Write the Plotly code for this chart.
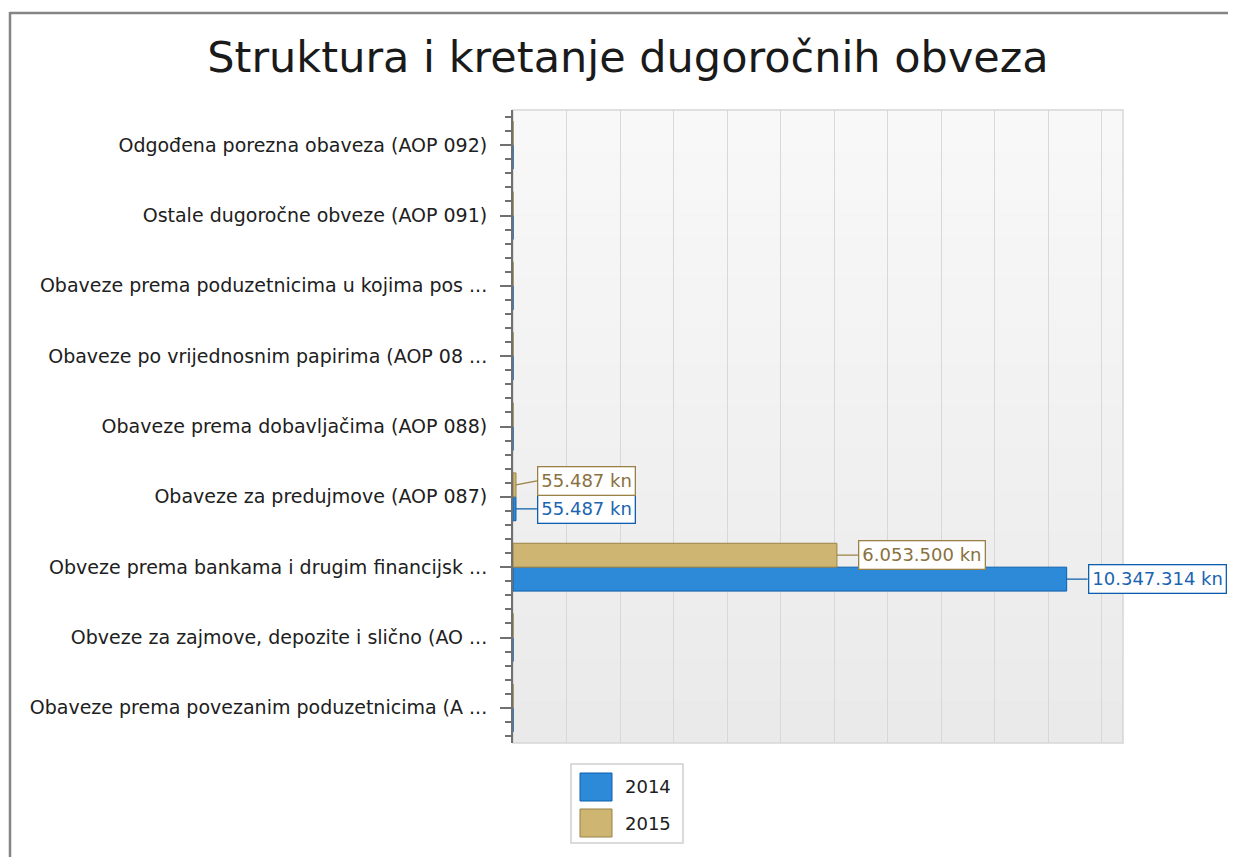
import plotly.graph_objects as go

# ---- data (bottom-to-top category order) ----
categories = [
    "Obaveze prema povezanim poduzetnicima (A ...",
    "Obveze za zajmove, depozite i slično (AO ...",
    "Obveze prema bankama i drugim financijsk ...",
    "Obaveze za predujmove (AOP 087)",
    "Obaveze prema dobavljačima (AOP 088)",
    "Obaveze po vrijednosnim papirima (AOP 08 ...",
    "Obaveze prema poduzetnicima u kojima pos ...",
    "Ostale dugoročne obveze (AOP 091)",
    "Odgođena porezna obaveza (AOP 092)",
]
values_2014 = [0, 0, 10347314, 55487, 0, 0, 0, 0, 0]
values_2015 = [0, 0, 6053500, 55487, 0, 0, 0, 0, 0]
series_names = ["2014", "2015"]
title_text = "Struktura i kretanje dugoročnih obveza"

OFF = 8  # page body margin
W, H = 1236 - OFF, 857 - OFF
L, R, T, B = 513 - OFF, 1123 - OFF, 110 - OFF, 743 - OFF  # plot area in figure px


def px(x):
    return (x - OFF - L) / (R - L)


def py(y):
    return (B - (y - OFF)) / (B - T)


BLUE_FILL, BLUE_LINE, BLUE_TEXT = "#2d8ad8", "#0d5fae", "#1a64b0"
GOLD_FILL, GOLD_LINE, GOLD_TEXT = "#ceb572", "#9a8246", "#8a7140"
FONT = "DejaVu Sans"

ypos = list(range(len(categories)))

fig = go.Figure()
fig.add_trace(go.Bar(
    y=ypos, x=values_2014, orientation="h", name=series_names[0],
    marker=dict(color=BLUE_FILL, line=dict(color=BLUE_LINE, width=1)),
    showlegend=False, hoverinfo="x+name",
))
fig.add_trace(go.Bar(
    y=ypos, x=values_2015, orientation="h", name=series_names[1],
    marker=dict(color=GOLD_FILL, line=dict(color=GOLD_LINE, width=1)),
    showlegend=False, hoverinfo="x+name",
))

bargap = 0.32
half = (1 - bargap) / 4  # offset of each bar centre from category centre


def fmt(v):
    return f"{v:,}".replace(",", ".") + " kn"


annotations = []
for i, (v14, v15) in enumerate(zip(values_2014, values_2015)):
    small = max(v14, v15) < 1e6
    for v, off, col, tcol, shift in [
        (v14, -half, BLUE_LINE, BLUE_TEXT, 0),
        (v15, half, GOLD_LINE, GOLD_TEXT, -4 if small else 0),
    ]:
        if v <= 0:
            continue
        annotations.append(dict(
            x=v, y=i + off, xref="x", yref="y",
            text=fmt(v), showarrow=True, arrowhead=0, arrowwidth=1.3,
            arrowcolor=col, ax=21, ay=shift, xanchor="left", yanchor="middle",
            bordercolor=col, borderwidth=1.3, borderpad=3, bgcolor="white",
            font=dict(family=FONT, size=18, color=tcol),
        ))

shapes = []
# subtle vertical background gradient of the plot area
n_strips = 30
for k in range(n_strips):
    t = k / (n_strips - 1)
    c = round(0xf8 - t * (0xf8 - 0xea))
    shapes.append(dict(type="rect", xref="paper", yref="paper", x0=0, x1=1,
                       y0=1 - (k + 1) / n_strips, y1=1 - k / n_strips,
                       line=dict(width=0), fillcolor=f"rgb({c},{c},{c})", layer="below"))
shapes += [
    # outer frame (top and left)
    dict(type="line", xref="paper", yref="paper", x0=px(10), x1=px(1240), y0=py(13), y1=py(13),
         line=dict(color="#858585", width=2.5)),
    dict(type="line", xref="paper", yref="paper", x0=px(10), x1=px(10), y0=py(12), y1=py(860),
         line=dict(color="#858585", width=2.5)),
    # plot-area light border
    dict(type="rect", xref="paper", yref="paper", x0=0, x1=1, y0=0, y1=1,
         line=dict(color="#d6d6d6", width=1.5), layer="below"),
    # legend box (drawn manually for large swatches)
    dict(type="rect", xref="paper", yref="paper", x0=px(571), x1=px(683), y0=py(843), y1=py(764),
         line=dict(color="#d0d0d0", width=1.5), fillcolor="white"),
    dict(type="rect", xref="paper", yref="paper", x0=px(580), x1=px(612), y0=py(801), y1=py(773),
         line=dict(color=BLUE_LINE, width=1), fillcolor=BLUE_FILL),
    dict(type="rect", xref="paper", yref="paper", x0=px(580), x1=px(612), y0=py(837), y1=py(809),
         line=dict(color=GOLD_LINE, width=1), fillcolor=GOLD_FILL),
]
for name, yy in zip(series_names, [787, 823]):
    annotations.append(dict(
        x=px(623), y=py(yy), xref="paper", yref="paper", text=name, showarrow=False,
        xanchor="left", yanchor="middle",
        font=dict(family=FONT, size=18, color="#202020"),
    ))

fig.update_layout(
    width=W, height=H,
    margin=dict(l=L, r=W - R, t=T, b=H - B, pad=0),
    paper_bgcolor="white", plot_bgcolor="#f0f0f0",
    barmode="group", bargap=bargap, bargroupgap=0,
    title=dict(text=title_text, x=(628 - OFF) / W, xanchor="center", y=1 - (57 - OFF) / H,
               yanchor="middle", font=dict(family=FONT, size=43, color="#1a1a1a")),
    xaxis=dict(range=[0, 11.4e6], dtick=1e6, tick0=0, showgrid=True, gridcolor="#d8d8d8",
               gridwidth=1.3, showticklabels=False, ticks="", zeroline=False, showline=False,
               fixedrange=True),
    yaxis=dict(range=[-0.5, len(categories) - 0.5], tickvals=ypos, ticktext=categories,
               showgrid=False, zeroline=False, showline=True, linecolor="#707070", linewidth=2,
               ticks="outside", ticklen=11, tickwidth=2, tickcolor="#707070",
               ticklabelstandoff=9,
               minor=dict(dtick=0.2, tick0=0, ticks="outside", ticklen=6, tickwidth=2,
                          tickcolor="#707070", showgrid=False),
               tickfont=dict(family=FONT, size=19, color="#202020"),
               fixedrange=True),
    shapes=shapes, annotations=annotations, font=dict(family=FONT),
)

fig.write_html("out.html")
